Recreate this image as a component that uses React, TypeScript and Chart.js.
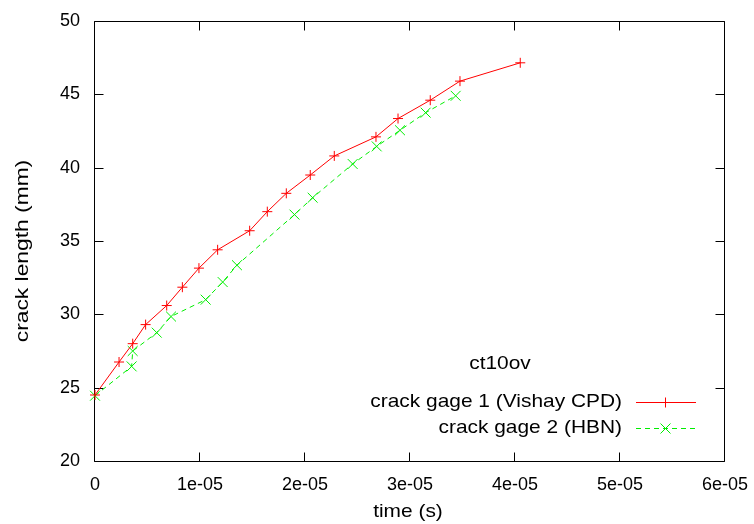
import React, { useEffect, useRef } from 'react';
import { Chart, registerables } from 'chart.js';

Chart.register(...registerables);

const FONT = '"Liberation Sans", Arial, Helvetica, sans-serif';

// crack gage 1 (Vishay CPD)
const gage1Time = [0, 2.29e-6, 3.59e-6, 4.82e-6, 6.83e-6, 8.32e-6, 9.9e-6, 1.168e-5, 1.473e-5, 1.641e-5, 1.822e-5, 2.05e-5, 2.279e-5, 2.676e-5, 2.886e-5, 3.193e-5, 3.476e-5, 4.05e-5];
const gage1Length = [24.5, 26.75, 28.0, 29.3, 30.6, 31.85, 33.15, 34.4, 35.7, 37.0, 38.25, 39.5, 40.8, 42.1, 43.35, 44.6, 45.9, 47.15];

// crack gage 2 (HBN)
const gage2Time = [0, 3.49e-6, 3.59e-6, 5.88e-6, 7.24e-6, 1.054e-5, 1.216e-5, 1.352e-5, 1.9e-5, 2.073e-5, 2.454e-5, 2.683e-5, 2.905e-5, 3.149e-5, 3.435e-5];
const gage2Length = [24.45, 26.45, 27.5, 28.75, 29.85, 31.0, 32.2, 33.35, 36.8, 37.95, 40.25, 41.45, 42.55, 43.75, 44.9];

const seriesLabels = ['crack gage 1 (Vishay CPD)', 'crack gage 2 (HBN)'];
const legendTitle = 'ct10ov';
const xTitle = 'time (s)';
const yTitle = 'crack length (mm)';

const xTickValues = [0, 1e-5, 2e-5, 3e-5, 4e-5, 5e-5, 6e-5];
const xTickLabels = ['0', '1e-05', '2e-05', '3e-05', '4e-05', '5e-05', '6e-05'];
const yTickValues = [20, 25, 30, 35, 40, 45, 50];
const yTickLabels = ['20', '25', '30', '35', '40', '45', '50'];

const RED = '#ff0000';
const GREEN = '#00ee00';

function drawText(ctx: CanvasRenderingContext2D, text: string, x: number, y: number, align: CanvasTextAlign, sx: number, size: number, rotate = 0) {
  ctx.save();
  ctx.translate(x, y);
  if (rotate) ctx.rotate(rotate);
  ctx.scale(sx, 1);
  ctx.font = `${size}px ${FONT}`;
  ctx.fillStyle = '#000';
  ctx.textAlign = align;
  ctx.textBaseline = 'middle';
  ctx.fillText(text, 0, 0);
  ctx.restore();
}

const framePlugin = {
  id: 'frame',
  beforeDatasetsDraw(chart: any) {
    const { ctx, chartArea, scales } = chart;
    const L = Math.round(chartArea.left) - 0.5;
    const R = Math.round(chartArea.right) - 0.5;
    const T = Math.round(chartArea.top) + 0.5;
    const B = Math.round(chartArea.bottom) + 0.5;
    ctx.save();
    ctx.strokeStyle = '#000';
    ctx.lineWidth = 1;
    ctx.beginPath();
    ctx.rect(L, T, R - L, B - T);
    const tl = 9;
    xTickValues.forEach((v) => {
      const px = Math.round(scales.x.getPixelForValue(v)) - 0.5;
      ctx.moveTo(px, B); ctx.lineTo(px, B - tl);
      ctx.moveTo(px, T); ctx.lineTo(px, T + tl);
    });
    yTickValues.forEach((v) => {
      const py = Math.round(scales.y.getPixelForValue(v)) + 0.5;
      ctx.moveTo(L, py); ctx.lineTo(L + tl, py);
      ctx.moveTo(R, py); ctx.lineTo(R - tl, py);
    });
    ctx.stroke();
    ctx.restore();
  },
  afterDraw(chart: any) {
    const { ctx, chartArea } = chart;
    // axis titles
    drawText(ctx, xTitle, (chartArea.left + chartArea.right) / 2 - 2, 512, 'center', 1.1, 19);
    drawText(ctx, yTitle, 23, 251, 'center', 1.2, 19, -Math.PI / 2);
    // legend
    drawText(ctx, legendTitle, 500, 364, 'center', 1.1, 19);
    const rows = [401.5, 427.5];
    const ds = chart.data.datasets;
    rows.forEach((y, i) => {
      drawText(ctx, ds[i].label, 622, y, 'right', 1.1, 19);
      ctx.save();
      ctx.strokeStyle = ds[i].borderColor;
      ctx.lineWidth = 1;
      ctx.setLineDash(ds[i].borderDash || []);
      ctx.beginPath();
      ctx.moveTo(636, Math.round(y) + 0.5);
      ctx.lineTo(696, Math.round(y) + 0.5);
      ctx.stroke();
      ctx.setLineDash([]);
      ctx.beginPath();
      const cx = 665.5, cy = Math.round(y) + 0.5;
      if (i === 0) {
        ctx.moveTo(cx - 5, cy); ctx.lineTo(cx + 5, cy);
        ctx.moveTo(cx, cy - 5); ctx.lineTo(cx, cy + 5);
      } else {
        ctx.moveTo(cx - 5, cy - 5); ctx.lineTo(cx + 5, cy + 5);
        ctx.moveTo(cx - 5, cy + 5); ctx.lineTo(cx + 5, cy - 5);
      }
      ctx.stroke();
      ctx.restore();
    });
  },
};

function zeroPadding(s: any) {
  s.paddingTop = 0;
  s.paddingBottom = 0;
  s.paddingLeft = 0;
  s.paddingRight = 0;
}

export default function App() {
  const ref = useRef<HTMLCanvasElement>(null);
  useEffect(() => {
    const canvas = ref.current!;
    const chart = new Chart(canvas, {
      type: 'scatter',
      data: {
        datasets: [
          {
            label: seriesLabels[0],
            data: gage1Time.map((t, i) => ({ x: t, y: gage1Length[i] })),
            showLine: true,
            borderColor: RED,
            backgroundColor: RED,
            borderWidth: 1,
            pointStyle: 'cross',
            pointRadius: 5,
            pointBorderWidth: 1,
            pointBorderColor: RED,
            clip: false,
          } as any,
          {
            label: seriesLabels[1],
            data: gage2Time.map((t, i) => ({ x: t, y: gage2Length[i] })),
            showLine: true,
            borderColor: GREEN,
            backgroundColor: GREEN,
            borderWidth: 1,
            borderDash: [5, 4],
            pointStyle: 'crossRot',
            pointRadius: 7,
            pointBorderWidth: 1,
            pointBorderColor: GREEN,
            clip: false,
          } as any,
        ],
      },
      options: {
        responsive: false,
        animation: false,
        devicePixelRatio: 1,
        layout: { padding: { left: 0, right: 29, top: 21, bottom: 0 } },
        plugins: { legend: { display: false }, tooltip: { enabled: false } },
        scales: {
          x: {
            type: 'linear',
            min: 0,
            max: 6e-5,
            grid: { display: false, drawTicks: false },
            border: { display: false },
            afterBuildTicks: (s: any) => { s.ticks = xTickValues.map((v) => ({ value: v })); },
            afterFit: (s: any) => { s.height = 63; zeroPadding(s); },
            ticks: {
              callback: (_v: any, i: number) => xTickLabels[i],
              padding: 13,
              color: '#000',
              font: { family: FONT, size: 18 },
              maxRotation: 0,
              autoSkip: false,
            },
          },
          y: {
            type: 'linear',
            min: 20,
            max: 50,
            grid: { display: false, drawTicks: false },
            border: { display: false },
            afterBuildTicks: (s: any) => { s.ticks = yTickValues.map((v) => ({ value: v })); },
            afterFit: (s: any) => { s.width = 95; zeroPadding(s); },
            ticks: {
              callback: (_v: any, i: number) => yTickLabels[i],
              padding: 15,
              color: '#000',
              font: { family: FONT, size: 18 },
              autoSkip: false,
            },
          },
        },
      },
      plugins: [framePlugin],
    } as any);
    return () => chart.destroy();
  }, []);
  return (
    <div style={{ position: 'fixed', left: 0, top: 0, width: 754, height: 524, background: '#fff' }}>
      <canvas ref={ref} width={754} height={524} style={{ display: 'block' }} />
    </div>
  );
}
